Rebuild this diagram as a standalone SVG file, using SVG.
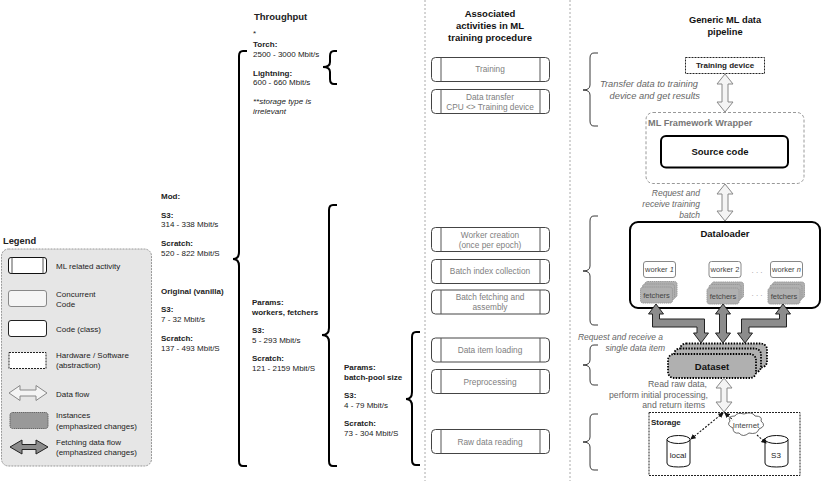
<svg xmlns="http://www.w3.org/2000/svg" width="822" height="481" viewBox="0 0 822 481">
<style>
text{font-family:"Liberation Sans",Arial,sans-serif;font-size:8px;fill:#222}
.b{font-weight:bold}
.h{font-weight:bold;font-size:9.5px;fill:#111;text-anchor:middle}
.c{text-anchor:middle}
.r{text-anchor:end}
.i{font-style:italic}
.g{fill:#666}
.a{fill:#808080;text-anchor:middle;font-size:8.300px}
.act{fill:#fff;stroke:#444;stroke-width:1}
.il{stroke:#555;stroke-width:1}
.brace{fill:none;stroke:#000;stroke-width:2}
.thin{fill:none;stroke:#222;stroke-width:.9}
.sep{stroke:#aaa;stroke-width:1;stroke-dasharray:2 2}
.flow{fill:#f4f4f4;stroke:#888;stroke-width:1}
.fetch{fill:#8c8c8c;stroke:#222;stroke-width:1}
.inst{fill:#b0b0b0;stroke:#999;stroke-width:1;stroke-dasharray:1.500 .6}
.ds{fill:#b0b0b0;stroke:#000;stroke-width:1.800;stroke-dasharray:1.500 1.300}
.wk{fill:#fff;stroke:#888;stroke-width:1}
.net{fill:none;stroke:#111;stroke-width:1.100;stroke-dasharray:2 1.500}
.ci{font-style:italic;fill:#666;text-anchor:end;font-size:8.500px}
.tr{font-style:italic;fill:#666;text-anchor:end;font-size:9.300px}
.rd{fill:#666;text-anchor:end;font-size:8.700px}
.ft{font-size:7.500px;fill:#444;text-anchor:middle}
</style>
<defs>
<marker id="ah" viewBox="0 0 6 6" refX="5" refY="3" markerWidth="5" markerHeight="5" orient="auto-start-reverse"><path d="M0 0L6 3L0 6z" fill="#111"/></marker>
</defs>
<rect width="822" height="481" fill="#fff"/>
<line class="sep" x1="425" y1="0" x2="425" y2="481"/>
<line class="sep" x1="570" y1="0" x2="570" y2="481"/>

<g id="legend">
<text x="3" y="244" class="b" style="font-size:9.300px">Legend</text>
<rect x="1.500" y="249" width="150" height="217" rx="7" fill="#e6e6e6" stroke="#999" stroke-dasharray="2 1"/>
<rect x="8.500" y="257.500" width="38" height="16" rx="2.500" fill="#fff" stroke="#111"/>
<line class="il" x1="12" y1="257.500" x2="12" y2="273.500"/><line class="il" x1="43" y1="257.500" x2="43" y2="273.500"/>
<rect x="8.500" y="290.500" width="38" height="16" rx="2.500" fill="#f5f5f5" stroke="#888"/>
<rect x="8.500" y="320.500" width="38" height="16" rx="2.500" fill="#fff" stroke="#222"/>
<rect x="9" y="352.500" width="37" height="16" fill="#fff" stroke="#222" stroke-dasharray="2 1"/>
<path class="flow" d="M9 393L20 385.500V390H36V385.500L47 393L36 400.500V396H20V400.500z"/>
<rect class="inst" x="10" y="412.500" width="38" height="16" rx="2.500" style="fill:#999;stroke:#666"/>
<path class="fetch" d="M10 447L22 440V444.500H36V440L48 447L36 454V449.500H22V454z"/>
<text x="56" y="269">ML related activity</text>
<text x="56" y="297">Concurrent</text><text x="56" y="307">Code</text>
<text x="56" y="332">Code (class)</text>
<text x="56" y="358">Hardware / Software</text><text x="56" y="368">(abstraction)</text>
<text x="56" y="397">Data flow</text>
<text x="56" y="418">Instances</text><text x="56" y="429">(emphasized changes)</text>
<text x="56" y="445">Fetching data flow</text><text x="56" y="455">(emphasized changes)</text>
</g>

<g id="throughput">
<text x="254" y="20" class="b" style="font-size:9.500px">Throughput</text>
<text x="253" y="36">*</text>
<text x="253" y="47" class="b">Torch:</text><text x="253" y="57">2500 - 3000 Mbit/s</text>
<text x="253" y="76" class="b">Lightning:</text><text x="253" y="85">600 - 660 Mbit/s</text>
<text x="253" y="104" class="i">**storage type is</text><text x="253" y="114" class="i">irrelevant</text>
<text x="161" y="199" class="b">Mod:</text>
<text x="161" y="218" class="b">S3:</text><text x="161" y="227">314 - 338 Mbit/s</text>
<text x="161" y="246" class="b">Scratch:</text><text x="161" y="256">520 - 822 Mbit/S</text>
<text x="161" y="294" class="b">Original (vanilla)</text>
<text x="161" y="312" class="b">S3:</text><text x="161" y="322">7 - 32 Mbit/s</text>
<text x="161" y="341" class="b">Scratch:</text><text x="161" y="351">137 - 493 Mbit/S</text>
<text x="252" y="305" class="b">Params:</text><text x="252" y="315" class="b">workers, fetchers</text>
<text x="252" y="333" class="b">S3:</text><text x="252" y="343">5 - 293 Mbit/s</text>
<text x="252" y="361" class="b">Scratch:</text><text x="252" y="371">121 - 2159 Mbit/S</text>
<text x="344" y="370" class="b">Params:</text><text x="344" y="380" class="b">batch-pool size</text>
<text x="344" y="398" class="b">S3:</text><text x="344" y="408">4 - 79 Mbit/s</text>
<text x="344" y="426" class="b">Scratch:</text><text x="344" y="436">73 - 304 Mbit/S</text>
<path class="brace" d="M247 51H243Q239 51 239 56V252Q239 259 233 259Q239 259 239 266V461Q239 466 243 466H247"/>
<path class="brace" d="M337 51H334Q330 51 330 56V62Q330 67 323 67Q330 67 330 72V79Q330 84 334 84H337"/>
<path class="brace" d="M337 205H333Q329 205 329 210V328Q329 335 322 335Q329 335 329 342V461Q329 466 333 466H337"/>
<path class="brace" d="M420 332H416Q412 332 412 337V392Q412 399 406 399Q412 399 412 406V460Q412 465 416 465H420"/>
</g>

<g id="activities">
<text x="490" y="17" class="h">Associated</text>
<text x="490" y="29" class="h">activities in ML</text>
<text x="490" y="41" class="h">training procedure</text>
<g id="act-training"><rect class="act" x="431.500" y="57.500" width="118" height="24" rx="4"/><line class="il" x1="441" y1="57.500" x2="441" y2="81.500"/><line class="il" x1="540" y1="57.500" x2="540" y2="81.500"/><text x="490" y="72" class="a">Training</text></g>
<g id="act-transfer"><rect class="act" x="431.500" y="89.500" width="118" height="24" rx="4"/><line class="il" x1="441" y1="89.500" x2="441" y2="113.500"/><line class="il" x1="540" y1="89.500" x2="540" y2="113.500"/><text x="490" y="100" class="a">Data transfer</text><text x="490" y="110" class="a">CPU &lt;&gt; Training device</text></g>
<g id="act-worker"><rect class="act" x="431.500" y="227.500" width="118" height="24" rx="4"/><line class="il" x1="441" y1="227.500" x2="441" y2="251.500"/><line class="il" x1="540" y1="227.500" x2="540" y2="251.500"/><text x="490" y="238" class="a">Worker creation</text><text x="490" y="248" class="a">(once per epoch)</text></g>
<g id="act-index"><rect class="act" x="431.500" y="259.500" width="118" height="24" rx="4"/><line class="il" x1="441" y1="259.500" x2="441" y2="283.500"/><line class="il" x1="540" y1="259.500" x2="540" y2="283.500"/><text x="490" y="274" class="a">Batch index collection</text></g>
<g id="act-fetch"><rect class="act" x="431.500" y="290" width="118" height="24" rx="4"/><line class="il" x1="441" y1="290" x2="441" y2="314"/><line class="il" x1="540" y1="290" x2="540" y2="314"/><text x="490" y="300" class="a">Batch fetching and</text><text x="490" y="310" class="a">assembly</text></g>
<g id="act-item"><rect class="act" x="431.500" y="338" width="118" height="24" rx="4"/><line class="il" x1="441" y1="338" x2="441" y2="362"/><line class="il" x1="540" y1="338" x2="540" y2="362"/><text x="490" y="353" class="a">Data item loading</text></g>
<g id="act-pre"><rect class="act" x="431.500" y="369.500" width="118" height="24" rx="4"/><line class="il" x1="441" y1="369.500" x2="441" y2="393.500"/><line class="il" x1="540" y1="369.500" x2="540" y2="393.500"/><text x="490" y="385" class="a">Preprocessing</text></g>
<g id="act-raw"><rect class="act" x="431.500" y="429.500" width="118" height="24" rx="4"/><line class="il" x1="441" y1="429.500" x2="441" y2="453.500"/><line class="il" x1="540" y1="429.500" x2="540" y2="453.500"/><text x="490" y="445" class="a">Raw data reading</text></g>
</g>

<g id="annotations">
<text x="725" y="23" class="h" style="font-size:9.300px">Generic ML data</text>
<text x="725" y="35" class="h" style="font-size:9.300px">pipeline</text>
<path class="thin" d="M598 53H594Q590 53 590 58V85Q590 90 583 90Q590 90 590 95V121Q590 126 594 126H598"/>
<path class="thin" d="M598 216H594Q590 216 590 221V266Q590 271 583 271Q590 271 590 276V320Q590 325 594 325H598"/>
<path class="thin" d="M598 345H594Q590 345 590 350V360Q590 365 583 365Q590 365 590 370V380Q590 385 594 385H598"/>
<path class="thin" d="M598 414H594Q590 414 590 419V437Q590 442 583 442Q590 442 590 447V465Q590 470 594 470H598"/>
<text x="698" y="87" class="tr">Transfer data to training</text>
<text x="700" y="99" class="tr">device and get results</text>
<text x="700" y="196" class="ci">Request and</text>
<text x="700" y="207" class="ci">receive training</text>
<text x="700" y="218" class="ci">batch</text>
<text x="663" y="340" class="ci">Request and receive a</text>
<text x="665" y="351" class="ci">single data item</text>
<text x="707" y="387" class="rd">Read raw data,</text>
<text x="708" y="398" class="rd">perform initial processing,</text>
<text x="705" y="408" class="rd">and return items</text>
</g>

<g id="training-device"><rect x="685.500" y="57.500" width="79" height="16" fill="#fff" stroke="#222" stroke-dasharray="2 1"/><text x="725" y="68" class="c b">Training device</text></g>
<g id="framework-wrapper"><rect x="646" y="112.500" width="158" height="71" rx="7" fill="#fff" stroke="#999" stroke-dasharray="3 2"/><text x="648" y="126" class="b" style="font-size:9.200px;fill:#777">ML Framework Wrapper</text></g>
<g id="source-code"><rect x="661" y="136" width="127" height="31.500" rx="5" fill="#fff" stroke="#000" stroke-width="2"/><text x="720" y="155" class="h">Source code</text></g>

<g id="dataloader"><rect x="630" y="222" width="190" height="86" rx="8" fill="#fff" stroke="#000" stroke-width="2"/><text x="725" y="237" class="h">Dataloader</text>
<text x="757" y="273" class="c" style="fill:#999">. . .</text><text x="757" y="296" class="c" style="fill:#999">. . .</text></g>
<g id="worker-1"><rect class="wk" x="643.500" y="261.500" width="32" height="16" rx="2.500"/><text x="659.500" y="272" class="ft">worker <tspan class="i">1</tspan></text></g>
<g id="worker-2"><rect class="wk" x="709" y="261.500" width="32" height="16" rx="2.500"/><text x="725" y="272" class="ft">worker 2</text></g>
<g id="worker-n"><rect class="wk" x="770.500" y="261.500" width="32" height="16" rx="2.500"/><text x="786.500" y="272" class="ft">worker <tspan class="i">n</tspan></text></g>
<g id="fetchers-1"><rect class="inst" x="645" y="281.500" width="32" height="16" rx="2.500"/><rect class="inst" x="642.500" y="284" width="32" height="16" rx="2.500"/><rect class="inst" x="640.500" y="287" width="32" height="16" rx="2.500"/><text x="656.500" y="298" class="ft">fetchers</text></g>
<g id="fetchers-2"><rect class="inst" x="711.500" y="282" width="32" height="16" rx="2.500"/><rect class="inst" x="709" y="284.500" width="32" height="16" rx="2.500"/><rect class="inst" x="707" y="288" width="32" height="16" rx="2.500"/><text x="723" y="299" class="ft">fetchers</text></g>
<g id="fetchers-n"><rect class="inst" x="772.500" y="282" width="32" height="16" rx="2.500"/><rect class="inst" x="770" y="284.500" width="32" height="16" rx="2.500"/><rect class="inst" x="768" y="288" width="32" height="16" rx="2.500"/><text x="784" y="299" class="ft">fetchers</text></g>

<g id="dataset"><rect class="ds" x="680" y="343.500" width="87" height="24" rx="6"/><rect class="ds" x="674" y="348.500" width="87" height="24" rx="6"/><rect class="ds" x="668" y="354" width="88" height="24" rx="6"/><text x="712" y="370" class="h">Dataset</text></g>

<g id="storage"><rect x="649" y="412.500" width="151" height="63" fill="#fff" stroke="#222" stroke-dasharray="2 1"/><text x="651" y="425" class="b">Storage</text></g>
<g id="local"><path d="M667 439.500V463Q667 467 678.500 467T690 463V439.500" fill="#fff" stroke="#111"/><ellipse cx="678.500" cy="439.500" rx="11.500" ry="4" fill="#fff" stroke="#111"/><text x="678" y="458" class="c">local</text></g>
<g id="s3"><path d="M765 439.500V463Q765 467 776.500 467T788 463V439.500" fill="#fff" stroke="#111"/><ellipse cx="776.500" cy="439.500" rx="11.500" ry="4" fill="#fff" stroke="#111"/><text x="776" y="458" class="c">S3</text></g>
<g id="internet"><path d="M733 428Q726 425 730 421Q727 416 735 416Q737 412 744 414Q752 411 755 416Q763 416 761 421Q767 426 759 429Q757 435 749 433Q743 438 739 433Q733 434 733 428z" fill="#fff" stroke="#444" stroke-width=".8"/><text x="746" y="428" class="c" style="font-size:7.800px;fill:#444">Internet</text></g>

<g id="connectors">
<path class="flow" d="M725 74L733 84H728V102H733L725 112L717 102H722V84H717z"/>
<path class="flow" d="M725 184L733 194H728V211H733L725 221L717 211H722V194H717z"/>
<path class="flow" d="M724 378L732 388H727V402H732L724 412L716 402H721V388H716z"/>
<path class="fetch" d="M656 304L663.500 314H659.500V319H704.500V333H708.500L701 343L693.500 333H697V327H652.500V314H648.500z"/>
<path class="fetch" d="M723 304L730.500 314H726.500V333H730.500L723 343L715.500 333H719.500V314H715.500z"/>
<path class="fetch" d="M783 304L790.500 314H786.500V327H749V333H752.500L745 343L737.500 333H741.500V319H779.500V314H775.500z"/>
<line class="net" x1="723" y1="413" x2="691" y2="439" marker-start="url(#ah)" marker-end="url(#ah)"/>
<line class="net" x1="725" y1="413" x2="733" y2="420" marker-start="url(#ah)"/>
<line class="net" x1="757" y1="435" x2="766" y2="443" marker-end="url(#ah)"/>
</g>
</svg>
